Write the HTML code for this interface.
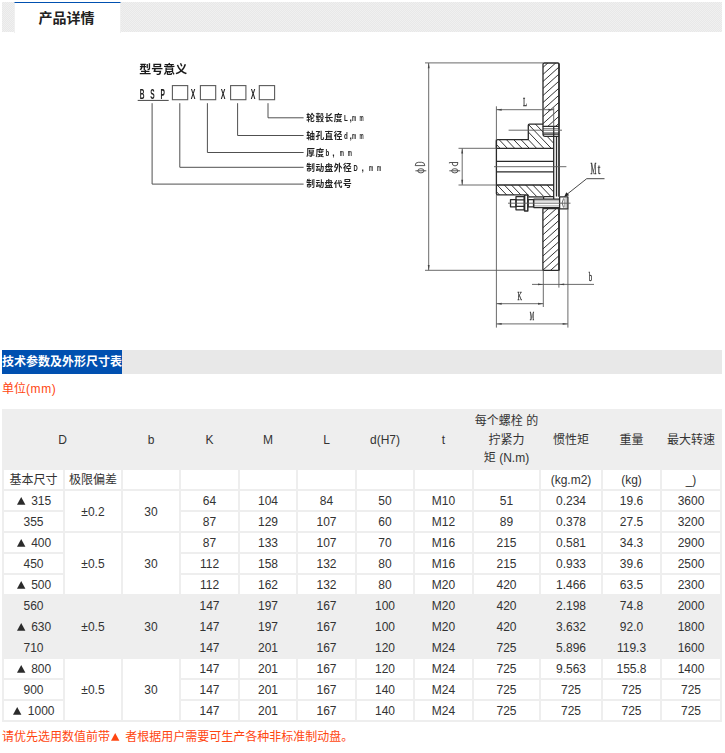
<!DOCTYPE html><html lang="zh-CN"><head><meta charset="utf-8"><title>产品详情</title><style>
html,body{margin:0;padding:0;background:#fff}
body{width:725px;height:753px;position:relative;overflow:hidden;font-family:"Liberation Sans","Noto Sans CJK SC",sans-serif;font-size:12px;color:#333}
svg.tri{display:inline-block;width:12px;height:12px;vertical-align:-1.6px;fill:#2b2b2b}
svg.tri.o{fill:#ff4611}
#bar{position:absolute;left:2px;top:2px;width:720px;height:30px;background:repeating-conic-gradient(#e8e8e8 0 25%,#f0f0f0 0 50%) 0 0/2px 2px}
#tab{position:absolute;left:14px;text-indent:-2px;top:2px;width:107px;border-left:1px solid #f0f0f0;border-right:1px solid #f0f0f0;height:31px;background:#fff;border-top:1px solid #0050b0;box-sizing:border-box;text-align:center;line-height:31px;font-size:14px;font-weight:bold;color:#222}
#draw{position:absolute;left:0;top:0;width:725px;height:345px;will-change:transform}
#sec{position:absolute;left:2px;top:350px;width:720px;height:24px;background:#e8e8e8;line-height:24px}
#sec span{display:inline-block;height:24px;background:#0050b0;color:#fff;font-weight:bold;vertical-align:top}
#unit{position:absolute;left:2px;top:380px;height:19px;line-height:19px;color:#ff4611;white-space:nowrap}
#note{position:absolute;left:2px;top:728px;height:19px;line-height:19px;color:#ff4611;white-space:nowrap}
table{position:absolute;left:2px;top:409px;width:720px;table-layout:fixed;border-collapse:separate;border-spacing:2px;background:#eee;font-size:12px;line-height:19px;color:#333}
td{padding:1px 0 0;height:18px;line-height:18px;background:#fff;text-align:center;vertical-align:middle;white-space:nowrap;overflow:hidden}
tr.h td{background:#eee;padding:1px 0 0;height:56px;line-height:18.66px}
tr.g td{background:#eee}
</style></head><body><div id="bar"></div><div id="tab">产品详情</div><svg id="draw" viewBox="0 0 725 345" role="img" aria-label="型号意义 BSP 制动盘"><text x="139.2" y="73.6" font-family="Liberation Sans, Noto Sans CJK SC, sans-serif" font-size="12" font-weight="bold" fill="#1a1a1a">型号意义</text><g font-family="Liberation Sans, sans-serif" font-size="14" font-weight="bold" fill="#222"><text transform="translate(142.1 98.9) scale(0.47 1)" text-anchor="middle">B</text><text transform="translate(152.4 98.9) scale(0.47 1)" text-anchor="middle">S</text><text transform="translate(162.6 98.9) scale(0.47 1)" text-anchor="middle">P</text><text transform="translate(193.2 98.9) scale(0.5 1)" text-anchor="middle">X</text><text transform="translate(223.2 98.9) scale(0.5 1)" text-anchor="middle">X</text><text transform="translate(253 98.9) scale(0.5 1)" text-anchor="middle">X</text></g><path d="M137.7 100.4H168.7" stroke="#444" stroke-width="1"/><rect x="172.4" y="85.6" width="15.3" height="14.1" fill="none" stroke="#5a5a5a" stroke-width="1.1"/><rect x="200.4" y="85.6" width="15.3" height="14.1" fill="none" stroke="#5a5a5a" stroke-width="1.1"/><rect x="230.6" y="85.6" width="15.3" height="14.1" fill="none" stroke="#5a5a5a" stroke-width="1.1"/><rect x="259.3" y="85.6" width="15.3" height="14.1" fill="none" stroke="#5a5a5a" stroke-width="1.1"/><path d="M152.1 103.2V184.1H303.6M179.8 103.2V167.3H303.6M207.4 103.2V152.5H303.6M237.6 103.2V135.5H303.6M268 103.2V117.8H303.6" fill="none" stroke="#505050" stroke-width="1"/><g font-family="Liberation Sans, Noto Sans CJK SC, sans-serif" font-size="8.6" font-weight="bold" fill="#222"><text x="306.2" y="121.1" font-size="8.7" textLength="36.3" lengthAdjust="spacing">轮毂长度</text><text transform="translate(344.1 121.3) scale(0.72 1)">L</text><text transform="translate(349.5 121.3) scale(1 1)">,</text><text transform="translate(352.1 121.3) scale(0.54 1)">m</text><text transform="translate(359.6 121.3) scale(0.54 1)">m</text><text x="306.2" y="138.8" font-size="8.7" textLength="36.3" lengthAdjust="spacing">轴孔直径</text><text transform="translate(344.1 139) scale(0.72 1)">d</text><text transform="translate(349.5 139) scale(1 1)">,</text><text transform="translate(352.1 139) scale(0.54 1)">m</text><text transform="translate(359.6 139) scale(0.54 1)">m</text><text x="306.2" y="155.8" font-size="8.7" textLength="18" lengthAdjust="spacing">厚度</text><text transform="translate(325.4 156) scale(0.72 1)">b</text><text transform="translate(332.3 156) scale(1 1)">,</text><text transform="translate(339.7 156) scale(0.54 1)">m</text><text transform="translate(347.8 156) scale(0.54 1)">m</text><text x="306.2" y="170.6" font-size="8.7" textLength="45.4" lengthAdjust="spacing">制动盘外径</text><text transform="translate(353.4 170.8) scale(0.68 1)">D</text><text transform="translate(361.6 170.8) scale(1 1)">,</text><text transform="translate(368.9 170.8) scale(0.54 1)">m</text><text transform="translate(377 170.8) scale(0.54 1)">m</text><text x="306.2" y="187.4" font-size="8.7" textLength="45.4" lengthAdjust="spacing">制动盘代号</text></g><clipPath id="h1"><path d="M543 126.3V64.2Q543 63 544.2 63H557.8Q559 63 559 64.2V126.3Z"/></clipPath><path clip-path="url(#h1)" d="M543 60.34 L559 45.94 M543 67.37 L559 52.97 M543 74.4 L559 60 M543 81.43 L559 67.03 M543 88.46 L559 74.06 M543 95.49 L559 81.09 M543 102.52 L559 88.12 M543 109.55 L559 95.15 M543 116.58 L559 102.18 M543 123.61 L559 109.21 M543 130.64 L559 116.24 M543 137.67 L559 123.27" stroke="#2a2a2a" stroke-width="0.95" fill="none"/><clipPath id="h2"><path d="M542.9 208.7H559V270.3H542.9Z"/></clipPath><path clip-path="url(#h2)" d="M542.9 206.53 L559 192.04 M542.9 213.6 L559 199.11 M542.9 220.67 L559 206.18 M542.9 227.74 L559 213.25 M542.9 234.81 L559 220.32 M542.9 241.88 L559 227.39 M542.9 248.95 L559 234.46 M542.9 256.02 L559 241.53 M542.9 263.09 L559 248.6 M542.9 270.16 L559 255.67 M542.9 277.23 L559 262.74 M542.9 284.3 L559 269.81" stroke="#2a2a2a" stroke-width="0.95" fill="none"/><clipPath id="h3"><path d="M496.4 148.4V140.7Q496.4 139.6 497.5 139.6H528.3V125.2Q528.3 124.1 529.4 124.1H543V136.4H553.7V148.4Z"/></clipPath><path clip-path="url(#h3)" d="M469.62 124 L492.86 148.4 M476.92 124 L500.16 148.4 M484.22 124 L507.46 148.4 M491.52 124 L514.76 148.4 M498.82 124 L522.06 148.4 M506.12 124 L529.36 148.4 M513.42 124 L536.66 148.4 M520.72 124 L543.96 148.4 M528.02 124 L551.26 148.4 M535.32 124 L558.56 148.4 M542.62 124 L565.86 148.4 M549.92 124 L573.16 148.4" stroke="#2a2a2a" stroke-width="0.95" fill="none"/><clipPath id="h4"><path d="M496.4 185H553.7V196.6H528.2V194.9H497.5Q496.4 194.9 496.4 193.8Z"/></clipPath><path clip-path="url(#h4)" d="M482.96 185 L494.39 197 M490.08 185 L501.51 197 M497.2 185 L508.63 197 M504.32 185 L515.75 197 M511.44 185 L522.87 197 M518.56 185 L529.99 197 M525.68 185 L537.11 197 M532.8 185 L544.23 197 M539.92 185 L551.35 197 M547.04 185 L558.47 197" stroke="#2a2a2a" stroke-width="0.95" fill="none"/><g fill="none" stroke="#2a2a2a" stroke-width="1.3" stroke-linejoin="round"><path d="M543 126.3V64.2Q543 63 544.2 63H557.8Q559 63 559 64.2V126.3Z"/><path d="M542.9 208.7H559V270.3H542.9Z"/><path d="M496.4 148.4V140.7Q496.4 139.6 497.5 139.6H528.3V125.2Q528.3 124.1 529.4 124.1H543"/><path d="M543 126.3V134.6Q543 136.4 544.8 136.4H559"/><path d="M543 134.1H559"/><path d="M496.4 148.4H553.7M496.4 185H553.7M496.4 161.4H553.7M496.4 171.8H553.7"/><path d="M496.4 139.6V193.8Q496.4 194.9 497.5 194.9H524.2"/><path d="M528.2 196.9H543.5"/><path d="M553.7 126.3V196.6M556.5 136.4V196.6"/><path d="M559 126.3V196.8" stroke-width="1.7"/><path d="M559 208.7V270.3" stroke-width="1.5"/><path d="M559 63.5V126.3" stroke-width="1.4"/><path d="M510.5 199.6H516V206.8H510.5Z"/><path d="M516 196.6H524.2V209.8H516Z M516 199.9H524.2M516 206.4H524.2"/><path d="M524.6 194.9H527.8V210.9H524.6Z" stroke-width="1.5"/><path d="M528.1 199.6H533.6V206.8H528.1Z"/><path d="M533.6 199.1H559.6M533.6 207.6H559.6M533.6 199.1V207.6"/><path d="M543.6 196.7H553.7V199.1M543.6 196.7V199.1"/><path d="M559.6 196.9H567.9V208.9H559.6Z"/><path d="M563.6 198.4Q560.6 203 563.6 207.6" stroke-width="0.7"/></g><g fill="none" stroke="#2a2a2a" stroke-width="0.6"><path d="M543 128.6H559M543 132.7H559"/><path d="M564.6 198.6V207.4M566 198V208M567.2 197.6V208.4" stroke-width="0.5" stroke="#555"/><path d="M533.6 200.8H559.6M533.6 205.9H559.6" stroke-width="0.45"/></g><g fill="none" stroke="#5a5a5a" stroke-width="0.9"><path d="M425 62.9H543M425 270.3H543M428.7 63V270.2"/><path d="M458.5 148.3H496.4M458.5 185H496.4M462.2 148.4V184.9"/><path d="M496.4 106.3V139.6M496.4 194.9V327.6"/><path d="M553.7 107.5V126.3M496.4 109.7H553.7"/><path d="M494 166.7H566.4"/><path d="M508.6 130.2H562"/><path d="M508 203.2H570.5"/><path d="M543.3 270.3V307M558.9 270.3V287.6M532 284.4H594"/><path d="M496.4 303.7H543.3"/><path d="M496.4 323.9H567.9M567.9 208.9V327.6"/><path d="M565 195.9L586.7 178.7H604.5" stroke="#333"/></g><path d="M428.7 63 L427.75 68.2 L429.65 68.2 Z" fill="#444"/><path d="M428.7 270.2 L427.75 265 L429.65 265 Z" fill="#444"/><path d="M462.2 148.4 L461.25 153.6 L463.15 153.6 Z" fill="#444"/><path d="M462.2 184.9 L461.25 179.7 L463.15 179.7 Z" fill="#444"/><path d="M496.5 109.7 L501.7 108.75 L501.7 110.65 Z" fill="#444"/><path d="M553.6 109.7 L548.4 108.75 L548.4 110.65 Z" fill="#444"/><path d="M543.2 284.4 L538 283.45 L538 285.35 Z" fill="#444"/><path d="M559 284.4 L564.2 283.45 L564.2 285.35 Z" fill="#444"/><path d="M496.5 303.7 L501.7 302.75 L501.7 304.65 Z" fill="#444"/><path d="M543.2 303.7 L538 302.75 L538 304.65 Z" fill="#444"/><path d="M496.5 323.9 L501.7 322.95 L501.7 324.85 Z" fill="#444"/><path d="M567.8 323.9 L562.6 322.95 L562.6 324.85 Z" fill="#444"/><path d="M564.2 196.7L566.3 192.3L569.2 195.2Z" fill="#222"/><g font-family="Liberation Serif, serif" fill="#333" stroke="#333" stroke-width="0.35"><text transform="translate(525 106.1) scale(0.5 1)" text-anchor="middle" font-size="13">L</text><text transform="translate(519.6 299.9) scale(0.47 1)" text-anchor="middle" font-size="13">K</text><text transform="translate(532 320.4) scale(0.38 1)" text-anchor="middle" font-size="13">M</text><text transform="translate(590.5 280.6) scale(0.52 1)" text-anchor="middle" font-size="13">b</text><text transform="translate(593.5 173.9) scale(0.4 1)" text-anchor="middle" font-size="16.5">M</text><text transform="translate(599.1 173.9) scale(0.62 1)" text-anchor="middle" font-size="15">t</text></g><g fill="none" stroke="#3a3a3a" stroke-width="0.85"><ellipse cx="420.9" cy="170.8" rx="3.1" ry="2.1"/><path d="M415.4 170.8H426.3"/><path d="M415.2 165.6H424.8M415.2 165.6Q415.2 162.3 418.3 162.3H421.7Q424.8 162.3 424.8 165.6"/><ellipse cx="454.8" cy="170.8" rx="3.1" ry="2.1"/><path d="M449.3 170.8H460.2"/><path d="M449.4 163.4V162.5H458M452.2 162.6Q452 165.9 455 165.9Q458.1 165.9 457.9 162.6"/></g></svg><div id="sec"><span>技术参数及外形尺寸表</span></div><div id="unit">单位<span style="letter-spacing:.6px">(mm)</span></div><table><colgroup><col style="width:59px"><col style="width:56px"><col style="width:56px"><col style="width:57px"><col style="width:56px"><col style="width:57px"><col style="width:56px"><col style="width:57px"><col style="width:65px"><col style="width:60px"><col style="width:57px"><col style="width:58px"></colgroup><tr class="h"><td colspan="2">D</td><td>b</td><td>K</td><td>M</td><td>L</td><td>d(H7)</td><td>t</td><td>每个螺栓 的<br>拧紧力<br>矩 (N.m)</td><td>惯性矩</td><td>重量</td><td>最大转速</td></tr><tr><td>基本尺寸</td><td>极限偏差</td><td></td><td></td><td></td><td></td><td></td><td></td><td></td><td>(kg.m2)</td><td>(kg)</td><td>_)</td></tr><tr><td><svg class="tri" viewBox="0 0 12 12" role="img" aria-label="▲"><path d="M5.2 1.9 9.4 9.7H1Z"/></svg> 315</td><td rowspan="2">±0.2</td><td rowspan="2">30</td><td>64</td><td>104</td><td>84</td><td>50</td><td>M10</td><td>51</td><td>0.234</td><td>19.6</td><td>3600</td></tr><tr><td>355</td><td>87</td><td>129</td><td>107</td><td>60</td><td>M12</td><td>89</td><td>0.378</td><td>27.5</td><td>3200</td></tr><tr><td><svg class="tri" viewBox="0 0 12 12" role="img" aria-label="▲"><path d="M5.2 1.9 9.4 9.7H1Z"/></svg> 400</td><td rowspan="3">±0.5</td><td rowspan="3">30</td><td>87</td><td>133</td><td>107</td><td>70</td><td>M16</td><td>215</td><td>0.581</td><td>34.3</td><td>2900</td></tr><tr><td>450</td><td>112</td><td>158</td><td>132</td><td>80</td><td>M16</td><td>215</td><td>0.933</td><td>39.6</td><td>2500</td></tr><tr><td><svg class="tri" viewBox="0 0 12 12" role="img" aria-label="▲"><path d="M5.2 1.9 9.4 9.7H1Z"/></svg> 500</td><td>112</td><td>162</td><td>132</td><td>80</td><td>M20</td><td>420</td><td>1.466</td><td>63.5</td><td>2300</td></tr><tr class="g"><td>560</td><td rowspan="3">±0.5</td><td rowspan="3">30</td><td>147</td><td>197</td><td>167</td><td>100</td><td>M20</td><td>420</td><td>2.198</td><td>74.8</td><td>2000</td></tr><tr class="g"><td><svg class="tri" viewBox="0 0 12 12" role="img" aria-label="▲"><path d="M5.2 1.9 9.4 9.7H1Z"/></svg> 630</td><td>147</td><td>197</td><td>167</td><td>100</td><td>M20</td><td>420</td><td>3.632</td><td>92.0</td><td>1800</td></tr><tr class="g"><td>710</td><td>147</td><td>201</td><td>167</td><td>120</td><td>M24</td><td>725</td><td>5.896</td><td>119.3</td><td>1600</td></tr><tr><td><svg class="tri" viewBox="0 0 12 12" role="img" aria-label="▲"><path d="M5.2 1.9 9.4 9.7H1Z"/></svg> 800</td><td rowspan="3">±0.5</td><td rowspan="3">30</td><td>147</td><td>201</td><td>167</td><td>120</td><td>M24</td><td>725</td><td>9.563</td><td>155.8</td><td>1400</td></tr><tr><td>900</td><td>147</td><td>201</td><td>167</td><td>140</td><td>M24</td><td>725</td><td>725</td><td>725</td><td>725</td></tr><tr><td><svg class="tri" viewBox="0 0 12 12" role="img" aria-label="▲"><path d="M5.2 1.9 9.4 9.7H1Z"/></svg> 1000</td><td>147</td><td>201</td><td>167</td><td>140</td><td>M24</td><td>725</td><td>725</td><td>725</td><td>725</td></tr></table><div id="note">请优先选用数值前带<svg class="tri o" viewBox="0 0 12 12" role="img" aria-label="▲"><path d="M5.2 1.9 9.4 9.7H1Z"/></svg> 者根据用户需要可生产各种非标准制动盘。</div></body></html>
